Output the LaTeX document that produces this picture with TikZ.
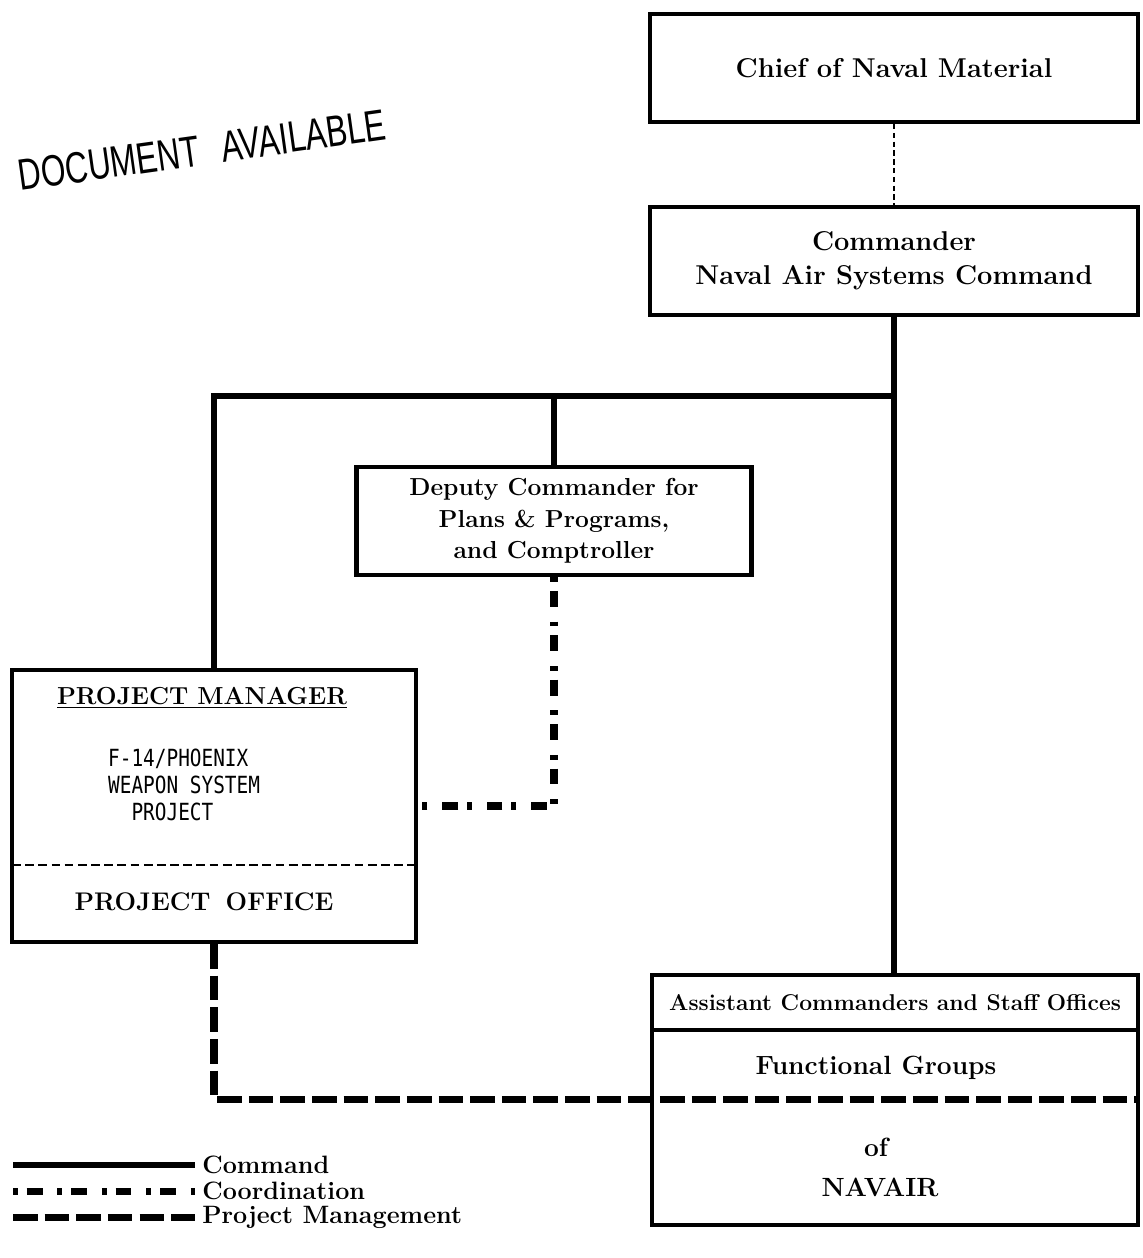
\documentclass[tikz,border=0pt]{standalone}
\usepackage{fontspec}
\usepackage{graphicx}
\usepackage{tikz}
\usetikzlibrary{positioning,calc}
\newfontfamily\stampfont{Liberation Sans}
\newfontfamily\typefont{DejaVu Sans Mono}

\begin{document}
\begin{tikzpicture}[x=0.02cm,y=-0.02cm,
    box/.style={draw,line width=2.4pt,minimum width=9.76cm,minimum height=2.16cm,
                font=\fontsize{15.5}{19.5}\selectfont\bfseries,align=center,inner sep=0pt},
    cmd/.style={line width=3.6pt},
    coord/.style={line width=4pt,dash pattern=on 2.8pt off 5pt on 9pt off 8.5pt},
    pmline/.style={line width=4pt,dash pattern=on 14pt off 4pt},
    legend/.style={font=\fontsize{14.3}{17}\selectfont\bfseries,anchor=west,inner sep=0pt}]

    \useasboundingbox (0,0) rectangle (1143,1258);

    \node[box] (chief) at (894,68) {Chief of Naval Material};
    \node[box] (cmdr) at (894,261) {Commander\\Naval Air Systems Command};
    \node[box,minimum width=7.9cm,font=\fontsize{14}{18}\selectfont\bfseries] (deputy) at (554,521)
      {Deputy Commander for\\Plans \& Programs,\\and Comptroller};
    \node[box,minimum width=8.08cm,minimum height=5.44cm] (pm) at (214,806) {};
    \node[box,minimum width=9.72cm,minimum height=5cm] (asst) at (895,1100) {};

    % project manager box
    \node[font=\fontsize{14}{17}\selectfont\bfseries] (pmtitle) at (202,698)
      {\underline{PROJECT MANAGER}};
    \node[font=\typefont\fontsize{12}{15.3}\selectfont,align=left,anchor=west] (pmproj) at (102,785)
      {\scalebox{0.92}[1.12]{F-14/PHOENIX}\\\scalebox{0.92}[1.12]{WEAPON SYSTEM}\\\scalebox{0.92}[1.12]{~~PROJECT}};
    \draw[line width=1.6pt,dash pattern=on 5pt off 2.5pt] (12,865) -- (416,865);
    \node[font=\fontsize{14.5}{17}\selectfont\bfseries] (office) at (204,902)
      {PROJECT\hspace{0.6em}OFFICE};

    % assistant commanders box
    \draw[line width=2pt] (652,1030) -- (1138,1030);
    \node[font=\fontsize{13}{16}\selectfont\bfseries] (asthead) at (895,1003)
      {Assistant Commanders and Staff Offices};
    \node[font=\fontsize{15}{18}\selectfont\bfseries] (func) at (876,1068) {Functional Groups};
    \node[font=\fontsize{15}{18}\selectfont\bfseries] (of) at (876,1147) {of};
    \node[font=\fontsize{15}{18}\selectfont\bfseries] (navair) at (880,1187) {NAVAIR};

    % connectors
    \coordinate (bus) at (894,396);
    \coordinate (pmend) at (1136,1099);
    \draw[line width=0.8pt,dash pattern=on 3pt off 2pt] (chief) -- (cmdr);
    \draw[cmd] (cmdr.south) -- (cmdr.south |- asst.north);
    \draw[cmd] (pm.north) |- (bus);
    \draw[cmd] (deputy.north) -- (deputy.north |- bus);
    \draw[coord] (deputy.south) |- (pm.east);
    \draw[pmline] (pm.south) |- (pmend);

    \node[rotate=8,font=\stampfont\fontsize{25}{25}\selectfont] (stamp) at (202,150)
      {\scalebox{0.72}[1]{DOCUMENT\hspace{0.7em}AVAILABLE}};

    % legend
    \node[legend] (lcmd) at (202,1165) {Command};
    \node[legend] (lcoord) at (202,1191) {Coordination};
    \node[legend] (lpm) at (202,1217) {Project Management};
    \coordinate (l1) at (13,1165);
    \coordinate (l2) at (13,1191);
    \coordinate (l3) at (13,1217);
    \draw[cmd,shorten >=4pt] (l1) -- (lcmd.west);
    \draw[coord,shorten >=4pt] (l2) -- (lcoord.west);
    \draw[pmline,shorten >=4pt] (l3) -- (lpm.west);
  \end{tikzpicture}
\end{document}
